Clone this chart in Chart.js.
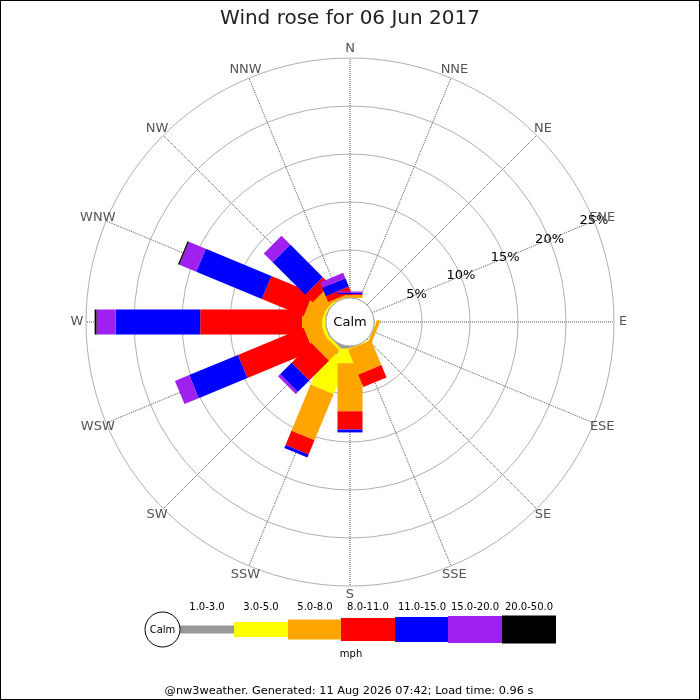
<!DOCTYPE html>
<html>
<head>
<meta charset="utf-8">
<title>Wind rose for 06 Jun 2017</title>
<script src="https://cdn.jsdelivr.net/npm/chart.js@4.4.1/dist/chart.umd.min.js"></script>
<style>
  html, body { margin: 0; padding: 0; background: #fff; }
  #wrap { width: 700px; height: 700px; }
</style>
</head>
<body>
<div id="wrap"><canvas id="rose" width="700" height="700"></canvas></div>
<script>
const directions = ['N','NNE','NE','ENE','E','ESE','SE','SSE','S','SSW','SW','WSW','W','WNW','NW','NNW'];
const speedBins = ['1.0-3.0','3.0-5.0','5.0-8.0','8.0-11.0','11.0-15.0','15.0-20.0','20.0-50.0'];
const binColors = ['#999999','#ffff00','#ffa500','#ff0000','#0000ff','#a020f0','#000000'];

// % of the day per direction (N .. NNW), one list per speed bin
const bin1to3   = [0,    0,0,0,0,0,   0,0,   0.25,1.1, 0.1,0.1, 0.05,0.1, 0.05,0];
const bin3to5   = [0,    0,0,0,0,0.05,0,0.1, 1.55,4.0, 0.3,0.3, 0.35,0.2, 0.15,0.05];
const bin5to8   = [0.3,  0,0,0,0,0.35,0,2.8, 5.0, 5.2, 1.5,1.8, 2.1, 1.9, 1.5, 0.25];
const bin8to11  = [0.1,  0,0,0,0,0,   0,1.4, 1.9, 1.6, 2.9,7.4, 10.6,4.7, 1.1, 0.65];
const bin11to15 = [0.15, 0,0,0,0,0,   0,0,   0.3, 0.35,1.7,5.5, 8.8, 7.4, 4.8, 0.95];
const bin15to20 = [0.13, 0,0,0,0,0,   0,0,   0,   0,   0.3,1.6, 2.0, 1.9, 1.3, 0.6];
const bin20to50 = [0,    0,0,0,0,0,   0,0,   0,   0,   0,  0,   0.2, 0.15,0,   0];
const tickValues = [5, 10, 15, 20, 25];

const binData = [bin1to3, bin3to5, bin5to8, bin8to11, bin11to15, bin15to20, bin20to50];
const FONT = '"DejaVu Sans", sans-serif';

const roseDecor = {
  id: 'roseDecor',
  beforeDraw(chart) {
    const ctx = chart.ctx;
    ctx.save();
    ctx.fillStyle = '#fff';
    ctx.fillRect(0, 0, chart.width, chart.height);
    ctx.restore();
  },
  afterDatasetsDraw(chart) {
    const ctx = chart.ctx;
    const scale = chart.scales.r;
    const half = 12.5;
    const totals = directions.map(() => 0);

    // stacked bars, one speed bin at a time
    chart.data.datasets.forEach(ds => {
      ds.data.forEach((v, i) => {
        const base = totals[i];
        totals[i] += v;
        if (!v) return;
        const r0 = scale.getDistanceFromCenterForValue(base);
        const r1 = scale.getDistanceFromCenterForValue(totals[i]);
        ctx.save();
        ctx.translate(scale.xCenter, scale.yCenter);
        ctx.rotate(scale.getIndexAngle(i) - Math.PI / 2);
        ctx.fillStyle = ds.barColor;
        ctx.fillRect(r0, -half, r1 - r0, half * 2);
        ctx.restore();
      });
    });

    // calm circle in the middle
    const rc = scale.getDistanceFromCenterForValue(0);
    ctx.save();
    ctx.beginPath();
    ctx.arc(scale.xCenter, scale.yCenter, rc, 0, Math.PI * 2);
    ctx.fillStyle = '#fff';
    ctx.fill();
    ctx.strokeStyle = '#aaa';
    ctx.lineWidth = 1;
    ctx.stroke();
    ctx.fillStyle = '#000';
    ctx.font = '13px ' + FONT;
    ctx.textAlign = 'center';
    ctx.textBaseline = 'middle';
    ctx.fillText('Calm', scale.xCenter, scale.yCenter + 1);

    // % labels along the ENE spoke
    tickValues.forEach(v => {
      const p = scale.getPointPosition(3, scale.getDistanceFromCenterForValue(v));
      ctx.fillText(v + '%', p.x, p.y);
    });

    // compass labels
    ctx.fillStyle = '#555';
    directions.forEach((d, i) => {
      const p = scale.getPointPosition(i, scale.drawingArea + 9);
      ctx.fillText(d, p.x, p.y);
    });
    ctx.restore();
  },
  afterDraw(chart) {
    const ctx = chart.ctx;
    ctx.save();
    ctx.fillStyle = '#222';
    ctx.textAlign = 'center';
    ctx.textBaseline = 'alphabetic';
    ctx.font = '20px ' + FONT;
    ctx.fillText('Wind rose for 06 Jun 2017', 350, 24);

    // speed key
    const keyX = [180, 234, 288, 341, 395, 448, 502];
    const keyH = [8, 15, 20, 23, 25, 27, 28];
    const keyW = 54, keyY = 629.5;
    ctx.font = '10px ' + FONT;
    ctx.textBaseline = 'middle';
    speedBins.forEach((b, i) => {
      ctx.fillStyle = binColors[i];
      ctx.fillRect(keyX[i], keyY - keyH[i] / 2, keyW, keyH[i]);
      ctx.fillStyle = '#000';
      ctx.fillText(b, keyX[i] + keyW / 2, 607);
    });
    ctx.beginPath();
    ctx.arc(162.5, keyY, 17.5, 0, Math.PI * 2);
    ctx.fillStyle = '#fff';
    ctx.fill();
    ctx.strokeStyle = '#000';
    ctx.lineWidth = 1;
    ctx.stroke();
    ctx.fillStyle = '#000';
    ctx.fillText('Calm', 162.5, keyY + 1);
    ctx.fillText('mph', 351, 654);

    ctx.font = '11.3px ' + FONT;
    ctx.fillText('@nw3weather. Generated: 11 Aug 2026 07:42; Load time: 0.96 s', 349, 691);

    ctx.strokeStyle = '#000';
    ctx.strokeRect(0.5, 0.5, chart.width - 1, chart.height - 1);
    ctx.restore();
  }
};

new Chart(document.getElementById('rose'), {
  type: 'radar',
  data: {
    labels: directions,
    datasets: speedBins.map((b, i) => ({
      label: b + ' mph',
      data: binData[i],
      barColor: binColors[i],
      borderWidth: 0,
      borderColor: 'transparent',
      backgroundColor: 'transparent',
      pointRadius: 0,
      fill: false
    }))
  },
  options: {
    responsive: false,
    animation: false,
    layout: { padding: { left: 86, right: 86, top: 58, bottom: 114 } },
    plugins: { legend: { display: false }, tooltip: { enabled: false }, title: { display: false } },
    scales: {
      r: {
        min: -2.5,
        max: 25,
        afterBuildTicks: s => { s.ticks = [0].concat(tickValues).map(v => ({ value: v })); },
        ticks: { display: false },
        pointLabels: { display: false },
        grid: { circular: true, color: '#b0b0b0', lineWidth: 1 },
        angleLines: { color: '#555', lineWidth: 1, borderDash: [1, 1] }
      }
    }
  },
  plugins: [roseDecor]
});
</script>
</body>
</html>
